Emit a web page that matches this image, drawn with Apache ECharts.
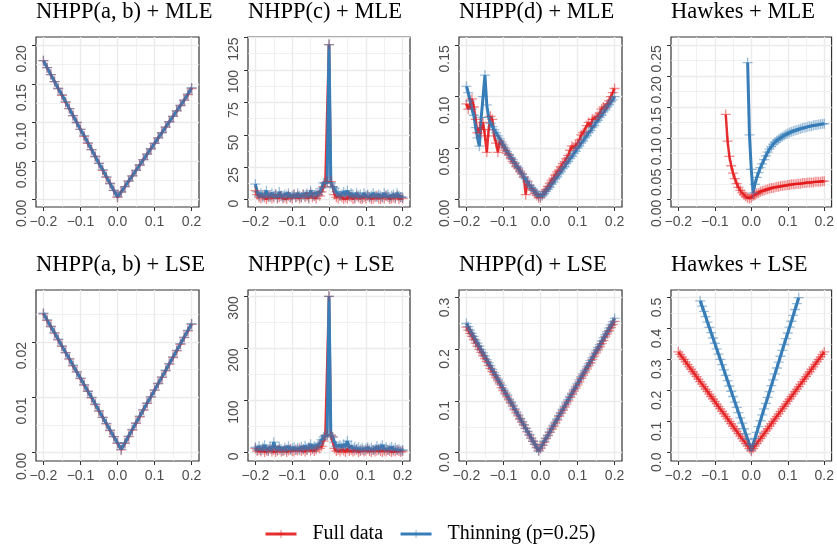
<!DOCTYPE html>
<html>
<head>
<meta charset="utf-8">
<script src="https://cdn.jsdelivr.net/npm/echarts@6/dist/echarts.min.js"></script>
<style>html,body{margin:0;padding:0;background:#fff;}#c{width:837px;height:544px;}</style>
</head>
<body>
<div id="c"></div>
<script>
// ---------- data ----------
const panelTitles = ['NHPP(a, b) + MLE','NHPP(c) + MLE','NHPP(d) + MLE','Hawkes + MLE',
                     'NHPP(a, b) + LSE','NHPP(c) + LSE','NHPP(d) + LSE','Hawkes + LSE'];
const seriesNames = ['Full data','Thinning (p=0.25)'];
const xTicks = [-0.2,-0.1,0,0.1,0.2];
const xMinor = [-0.15,-0.05,0.05,0.15];

const xGrid01 = [-0.20,-0.19,-0.18,-0.17,-0.16,-0.15,-0.14,-0.13,-0.12,-0.11,-0.10,-0.09,-0.08,-0.07,-0.06,-0.05,-0.04,-0.03,-0.02,-0.01,0.00,0.01,0.02,0.03,0.04,0.05,0.06,0.07,0.08,0.09,0.10,0.11,0.12,0.13,0.14,0.15,0.16,0.17,0.18,0.19,0.20];
const xGrid005 = [-0.200,-0.195,-0.190,-0.185,-0.180,-0.175,-0.170,-0.165,-0.160,-0.155,-0.150,-0.145,-0.140,-0.135,-0.130,-0.125,-0.120,-0.115,-0.110,-0.105,-0.100,-0.095,-0.090,-0.085,-0.080,-0.075,-0.070,-0.065,-0.060,-0.055,-0.050,-0.045,-0.040,-0.035,-0.030,-0.025,-0.020,-0.015,-0.010,-0.005,0.000,0.005,0.010,0.015,0.020,0.025,0.030,0.035,0.040,0.045,0.050,0.055,0.060,0.065,0.070,0.075,0.080,0.085,0.090,0.095,0.100,0.105,0.110,0.115,0.120,0.125,0.130,0.135,0.140,0.145,0.150,0.155,0.160,0.165,0.170,0.175,0.180,0.185,0.190,0.195,0.200];
const xHawkesMleFull = [-0.070,-0.065,-0.060,-0.055,-0.050,-0.045,-0.040,-0.035,-0.030,-0.025,-0.020,-0.015,-0.010,-0.005,0.000,0.005,0.010,0.015,0.020,0.025,0.030,0.035,0.040,0.045,0.050,0.055,0.060,0.065,0.070,0.075,0.080,0.085,0.090,0.095,0.100,0.105,0.110,0.115,0.120,0.125,0.130,0.135,0.140,0.145,0.150,0.155,0.160,0.165,0.170,0.175,0.180,0.185,0.190,0.195,0.200];
const xHawkesMleThin = [-0.010,-0.005,0.000,0.005,0.010,0.015,0.020,0.025,0.030,0.035,0.040,0.045,0.050,0.055,0.060,0.065,0.070,0.075,0.080,0.085,0.090,0.095,0.100,0.105,0.110,0.115,0.120,0.125,0.130,0.135,0.140,0.145,0.150,0.155,0.160,0.165,0.170,0.175,0.180,0.185,0.190,0.195,0.200];
const xHawkesLseThin = [-0.140,-0.135,-0.130,-0.125,-0.120,-0.115,-0.110,-0.105,-0.100,-0.095,-0.090,-0.085,-0.080,-0.075,-0.070,-0.065,-0.060,-0.055,-0.050,-0.045,-0.040,-0.035,-0.030,-0.025,-0.020,-0.015,-0.010,-0.005,0.000,0.005,0.010,0.015,0.020,0.025,0.030,0.035,0.040,0.045,0.050,0.055,0.060,0.065,0.070,0.075,0.080,0.085,0.090,0.095,0.100,0.105,0.110,0.115,0.120,0.125,0.130];

// Panel 1: NHPP(a,b) + MLE
const p1Full = [0.180,0.171,0.162,0.153,0.144,0.135,0.126,0.118,0.109,0.100,0.091,0.082,0.073,0.065,0.056,0.047,0.038,0.029,0.021,0.012,0.003,0.010,0.017,0.024,0.031,0.038,0.045,0.052,0.059,0.066,0.073,0.080,0.087,0.094,0.101,0.108,0.115,0.122,0.129,0.136,0.144];
const p1Thin = [0.180,0.171,0.162,0.153,0.144,0.136,0.127,0.118,0.109,0.100,0.091,0.083,0.074,0.065,0.056,0.047,0.039,0.030,0.021,0.012,0.004,0.010,0.017,0.024,0.031,0.038,0.045,0.052,0.059,0.066,0.073,0.080,0.087,0.094,0.101,0.108,0.115,0.122,0.129,0.137,0.145];
// Panel 2: NHPP(c) + MLE
const p2Full = [7,4,2,1,3,2,0.5,2,3,1,2,4,1,2,3,1,2,0.5,3,2,1,4,2,3,1,2,4,2,3,1,5,2,3,1,4,3,6,10,13,14,119.5,14,10,4,2,1,3,2,0.5,2,1,3,2,0.5,1,3,2,1,0.5,2,1,3,2,0.5,1,2,3,1,0.5,2,1,3,2,0.5,1,2,1,3,0.5,2,1];
const p2Thin = [12,6,3,5,2,4,7,3,2,5,3,4,2,6,3,2,4,3,5,2,3,4,2,5,3,2,4,3,5,2,7,4,3,5,4,6,9,13,13,13,119.5,13,10,9,6,5,3,4,6,4,7,3,5,4,2,5,3,4,2,5,3,4,2,3,5,3,2,4,3,2,5,3,4,2,3,4,2,5,3,2,2];
// Panel 3: NHPP(d) + MLE
const p3Full = [0.093,0.088,0.092,0.098,0.090,0.078,0.065,0.070,0.068,0.075,0.062,0.046,0.068,0.081,0.078,0.062,0.055,0.046,0.057,0.054,0.051,0.048,0.045,0.043,0.040,0.037,0.035,0.032,0.030,0.027,0.025,0.022,0.005,0.018,0.014,0.011,0.009,0.006,0.004,0.002,0.002,0.005,0.008,0.010,0.013,0.016,0.019,0.021,0.024,0.027,0.029,0.032,0.035,0.037,0.040,0.043,0.048,0.052,0.050,0.053,0.055,0.058,0.063,0.065,0.066,0.072,0.075,0.071,0.078,0.078,0.080,0.081,0.084,0.088,0.090,0.089,0.093,0.096,0.100,0.104,0.108];
const p3Thin = [0.110,0.104,0.096,0.088,0.082,0.070,0.060,0.052,0.080,0.100,0.121,0.092,0.080,0.074,0.071,0.068,0.065,0.062,0.059,0.056,0.053,0.050,0.047,0.044,0.041,0.039,0.036,0.033,0.031,0.028,0.025,0.022,0.020,0.017,0.014,0.012,0.010,0.008,0.006,0.004,0.003,0.004,0.006,0.008,0.010,0.012,0.015,0.017,0.020,0.022,0.025,0.027,0.030,0.032,0.035,0.037,0.040,0.042,0.045,0.047,0.050,0.052,0.055,0.057,0.060,0.062,0.065,0.067,0.070,0.072,0.075,0.077,0.080,0.082,0.085,0.087,0.090,0.092,0.095,0.097,0.100];
// Panel 4: Hawkes + MLE
const p4Full = [0.138,0.095,0.070,0.055,0.043,0.034,0.026,0.020,0.015,0.011,0.008,0.005,0.003,0.002,0.003,0.006,0.008,0.010,0.011,0.013,0.014,0.015,0.016,0.017,0.018,0.019,0.019,0.020,0.021,0.021,0.022,0.022,0.023,0.023,0.024,0.024,0.025,0.025,0.025,0.026,0.026,0.026,0.027,0.027,0.027,0.028,0.028,0.028,0.028,0.029,0.029,0.029,0.029,0.030,0.030];
const p4Thin = [0.222,0.105,0.049,0.011,0.025,0.036,0.044,0.052,0.058,0.065,0.071,0.077,0.082,0.086,0.090,0.093,0.096,0.098,0.100,0.102,0.104,0.106,0.107,0.109,0.110,0.111,0.112,0.113,0.114,0.115,0.116,0.117,0.117,0.118,0.119,0.119,0.120,0.121,0.121,0.122,0.122,0.123,0.123];
// Panel 5: NHPP(a,b) + LSE
const p5Full = [0.0251,0.0239,0.0228,0.0216,0.0204,0.0192,0.0181,0.0169,0.0157,0.0146,0.0134,0.0122,0.0111,0.0099,0.0087,0.0075,0.0064,0.0052,0.0040,0.0029,0.0017,0.0005,0.0017,0.0029,0.0041,0.0053,0.0065,0.0077,0.0089,0.0101,0.0113,0.0125,0.0136,0.0148,0.0160,0.0172,0.0184,0.0196,0.0208,0.0220,0.0232];
const p5Thin = [0.0252,0.0240,0.0228,0.0217,0.0205,0.0193,0.0181,0.0170,0.0158,0.0146,0.0135,0.0123,0.0111,0.0100,0.0088,0.0076,0.0064,0.0053,0.0041,0.0029,0.0018,0.0006,0.0018,0.0030,0.0042,0.0054,0.0066,0.0078,0.0090,0.0101,0.0113,0.0125,0.0137,0.0149,0.0161,0.0173,0.0185,0.0197,0.0209,0.0221,0.0233];
// Panel 6: NHPP(c) + LSE
const p6Full = [8,3,5,2,6,1,4,3,7,2,5,1,4,6,2,3,5,1,4,7,3,2,5,4,8,3,6,2,5,9,4,7,3,6,10,8,12,22,32,34,300,33,30,8,3,5,2,6,4,1,7,3,5,2,4,6,1,3,5,2,4,7,3,1,5,2,4,6,3,1,4,2,5,3,1,4,2,5,3,1,3];
const p6Thin = [10,6,12,5,9,14,7,4,10,6,20,8,5,11,7,4,9,6,12,5,8,10,6,9,5,11,7,13,6,10,16,8,12,9,14,18,25,30,33,33,300,34,30,20,12,9,14,10,16,12,22,9,13,8,11,7,10,6,9,5,8,10,6,9,5,7,12,6,9,14,7,10,5,8,11,6,9,5,7,4,5];
// Panel 7: NHPP(d) + LSE
const p7Full = [0.243,0.237,0.231,0.225,0.219,0.212,0.206,0.200,0.194,0.188,0.182,0.176,0.169,0.163,0.157,0.151,0.145,0.139,0.133,0.126,0.120,0.114,0.108,0.102,0.096,0.090,0.083,0.077,0.071,0.065,0.059,0.053,0.047,0.040,0.034,0.028,0.022,0.016,0.010,0.004,0.008,0.014,0.020,0.027,0.033,0.039,0.045,0.051,0.057,0.063,0.070,0.076,0.082,0.088,0.094,0.100,0.107,0.113,0.119,0.125,0.131,0.137,0.144,0.150,0.156,0.162,0.168,0.174,0.180,0.187,0.193,0.199,0.205,0.211,0.217,0.224,0.230,0.236,0.242,0.248,0.254];
const p7Thin = [0.250,0.244,0.237,0.231,0.225,0.218,0.212,0.206,0.199,0.193,0.187,0.180,0.174,0.168,0.161,0.155,0.149,0.142,0.136,0.130,0.123,0.117,0.111,0.104,0.098,0.092,0.085,0.079,0.073,0.066,0.060,0.054,0.047,0.041,0.035,0.028,0.022,0.016,0.009,0.003,0.009,0.015,0.022,0.028,0.034,0.040,0.047,0.053,0.059,0.065,0.072,0.078,0.084,0.090,0.097,0.103,0.109,0.115,0.122,0.128,0.134,0.141,0.147,0.153,0.159,0.166,0.172,0.178,0.184,0.191,0.197,0.203,0.209,0.216,0.222,0.228,0.234,0.241,0.247,0.253,0.260];
// Panel 8: Hawkes + LSE
const p8Full = [0.325,0.317,0.309,0.301,0.293,0.285,0.277,0.269,0.261,0.253,0.245,0.237,0.229,0.221,0.213,0.205,0.197,0.189,0.181,0.173,0.165,0.157,0.149,0.141,0.133,0.125,0.117,0.109,0.101,0.093,0.085,0.077,0.069,0.061,0.053,0.045,0.037,0.029,0.021,0.013,0.005,0.013,0.021,0.029,0.037,0.045,0.053,0.061,0.069,0.077,0.085,0.093,0.101,0.109,0.117,0.125,0.133,0.141,0.149,0.157,0.165,0.173,0.181,0.189,0.197,0.205,0.213,0.221,0.229,0.237,0.245,0.253,0.261,0.269,0.277,0.285,0.293,0.301,0.309,0.317,0.325];
const p8Thin = [0.490,0.473,0.456,0.439,0.421,0.404,0.387,0.370,0.353,0.335,0.318,0.301,0.284,0.267,0.249,0.232,0.215,0.198,0.181,0.163,0.146,0.129,0.112,0.095,0.077,0.060,0.043,0.026,0.008,0.027,0.046,0.065,0.084,0.103,0.122,0.141,0.159,0.178,0.197,0.216,0.235,0.254,0.273,0.292,0.311,0.330,0.349,0.368,0.386,0.405,0.424,0.443,0.462,0.481,0.500];

// y tick labels (major) and minor grid values per panel
const yTicks = [
  [0,0.05,0.10,0.15,0.20],[0,25,50,75,100,125],[0,0.05,0.10,0.15],[0,0.05,0.10,0.15,0.20,0.25],
  [0,0.01,0.02],[0,100,200,300],[0,0.1,0.2,0.3],[0,0.1,0.2,0.3,0.4,0.5]
];
const yMinor = [
  [0.025,0.075,0.125,0.175],[12.5,37.5,62.5,87.5,112.5],[0.025,0.075,0.125],[0.025,0.075,0.125,0.175,0.225],
  [0.005,0.015,0.025],[50,150,250],[0.05,0.15,0.25],[0.05,0.15,0.25,0.35,0.45]
];
const yDecimals = [2,0,2,2,2,0,1,1];
const yRange = [
  [-0.0094,0.2107],[-5.6,125.3],[-0.0071,0.158],[-0.0118,0.2634],
  [-0.0015,0.0294],[-16.2,312.1],[-0.0163,0.3149],[-0.0272,0.5249]
];

const panelData = [
  [[xGrid01,p1Full],[xGrid01,p1Thin]],
  [[xGrid005,p2Full],[xGrid005,p2Thin]],
  [[xGrid005,p3Full],[xGrid005,p3Thin]],
  [[xHawkesMleFull,p4Full],[xHawkesMleThin,p4Thin]],
  [[xGrid01,p5Full],[xGrid01,p5Thin]],
  [[xGrid005,p6Full],[xGrid005,p6Thin]],
  [[xGrid005,p7Full],[xGrid005,p7Thin]],
  [[xGrid005,p8Full],[xHawkesLseThin,p8Thin]]
];

// ---------- layout / style ----------
const COLORS = ['#E41A1C','#377EB8'];
const LINE_OPACITY = [0.9, 1];
const LINE_WIDTH = [2.5, 3.0];
const PLUS = 'path://M0,5L10,5M5,0L5,10';
const colLeft = [36,248,459,671];
const colWidth = [163,162,163,162];
const rowTop = [37,290];
const rowHeight = [170,171];
const titleTop = [1,253.5];
const AXIS_FONT = 'Liberation Sans';
const SERIF = 'Liberation Serif';

function zip(xs, ys){ const out=[]; for(let i=0;i<Math.min(xs.length,ys.length);i++) out.push([xs[i],ys[i]]); return out; }
function fmtX(v){ return (v < -1e-9 ? '\u2212' : '') + Math.abs(v).toFixed(1); }

const grids=[], xAxes=[], yAxes=[], series=[], titles=[];
for (let p=0;p<8;p++){
  const r = Math.floor(p/4), c = p%4;
  grids.push({left:colLeft[c], top:rowTop[r], width:colWidth[c], height:rowHeight[r],
    show:true, borderColor:'#333333', borderWidth:1.2, backgroundColor:'#ffffff', containLabel:false});
  titles.push({text:panelTitles[p], left:colLeft[c], top:titleTop[r], padding:0,
    textStyle:{fontFamily:SERIF, fontSize:22.5, fontWeight:'normal', color:'#000'}});
  xAxes.push({type:'value', gridIndex:p, min:-0.22, max:0.22, position:'bottom',
    axisLine:{show:false, onZero:false},
    axisTick:{show:true, customValues:xTicks, length:4, lineStyle:{color:'#333333', width:1}},
    axisLabel:{show:true, customValues:xTicks, formatter:fmtX, color:'#4D4D4D', fontFamily:AXIS_FONT, fontSize:14, margin:8},
    splitLine:{show:true, lineStyle:{color:'#EBEBEB', width:1.4}}});
  xAxes.push({type:'value', gridIndex:p, min:-0.22, max:0.22, position:'top',
    axisLine:{show:false, onZero:false}, axisTick:{show:false, customValues:xMinor}, axisLabel:{show:false},
    splitLine:{show:true, lineStyle:{color:'#EBEBEB', width:0.7}}});
  const dec = yDecimals[p];
  yAxes.push({type:'value', gridIndex:p, min:yRange[p][0], max:yRange[p][1], position:'left',
    axisLine:{show:false, onZero:false},
    axisTick:{show:true, customValues:yTicks[p], length:4, lineStyle:{color:'#333333', width:1}},
    axisLabel:{show:true, customValues:yTicks[p], rotate:90, align:'right', verticalAlign:'bottom',
      formatter:(v)=>Number(v).toFixed(dec), color:'#4D4D4D', fontFamily:AXIS_FONT, fontSize:14, margin:7},
    splitLine:{show:true, lineStyle:{color:'#EBEBEB', width:1.4}}});
  yAxes.push({type:'value', gridIndex:p, min:yRange[p][0], max:yRange[p][1], position:'right',
    axisLine:{show:false, onZero:false}, axisTick:{show:false, customValues:yMinor[p]}, axisLabel:{show:false},
    splitLine:{show:true, lineStyle:{color:'#EBEBEB', width:0.7}}});
  for (let s=0;s<2;s++){
    const [xs,ys] = panelData[p][s];
    series.push({type:'line', name:seriesNames[s], xAxisIndex:2*p, yAxisIndex:2*p, z:3+s,
      data:zip(xs,ys), showSymbol:false, symbol:PLUS, symbolSize:9, silent:true, clip:false,
      lineStyle:{color:COLORS[s], width:LINE_WIDTH[s], opacity:LINE_OPACITY[s]},
      itemStyle:{color:COLORS[s], borderColor:COLORS[s], borderWidth:1.2, opacity:0.55}});
  }
  for (let s=0;s<2;s++){
    const [xs,ys] = panelData[p][s];
    series.push({type:'scatter', name:seriesNames[s], xAxisIndex:2*p, yAxisIndex:2*p, z:5+s,
      data:zip(xs,ys), symbol:PLUS, symbolSize:10, silent:true, clip:false,
      itemStyle:{color:COLORS[s], borderColor:COLORS[s], borderWidth:1.3, opacity:0.5}});
  }
}

const chart = echarts.init(document.getElementById('c'), null, {renderer:'canvas'});
chart.setOption({
  animation:false,
  backgroundColor:'#ffffff',
  title:titles,
  legend:{data:seriesNames, left:264, top:524, padding:0, itemWidth:31, itemHeight:10, itemGap:16,
    textStyle:{fontFamily:SERIF, fontSize:20, color:'#000', padding:[0,0,0,11]},
    lineStyle:{width:3}, itemStyle:{borderWidth:1}},
  grid:grids, xAxis:xAxes, yAxis:yAxes, series:series
});
</script>
</body>
</html>
